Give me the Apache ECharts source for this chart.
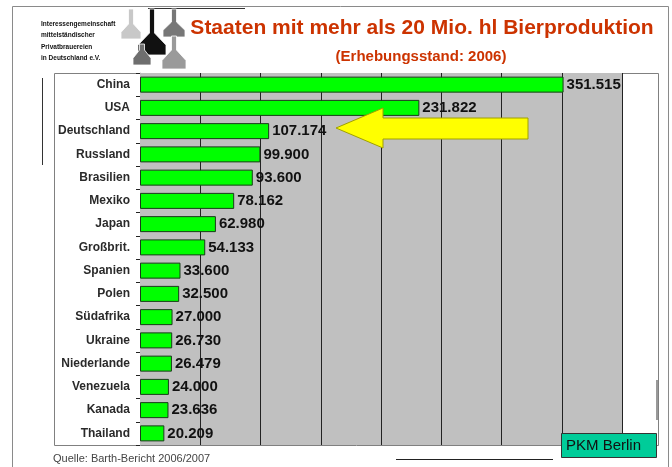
<!DOCTYPE html>
<html>
<head>
<meta charset="utf-8">
<script src="https://cdn.jsdelivr.net/npm/echarts@6/dist/echarts.min.js"></script>
<style>
html,body{margin:0;padding:0;background:#fff;}
#c{width:672px;height:467px;}
</style>
</head>
<body>
<div id="c"></div>
<script>
const categories = ['China','USA','Deutschland','Russland','Brasilien','Mexiko','Japan','Großbrit.','Spanien','Polen','Südafrika','Ukraine','Niederlande','Venezuela','Kanada','Thailand'];
const production = [351.515,231.822,107.174,99.900,93.600,78.162,62.980,54.133,33.600,32.500,27.000,26.730,26.479,24.000,23.636,20.209];
const titleText = 'Staaten mit mehr als 20 Mio. hl Bierproduktion';
const subtitleText = '(Erhebungsstand: 2006)';
const sourceText = 'Quelle: Barth-Bericht 2006/2007';
const badgeText = 'PKM Berlin';
const logoLines = ['Interessengemeinschaft','mittelständischer','Privatbrauereien','in Deutschland e.V.'];

function kettle(cx, top, stemH, bodyW, bodyH, color) {
  const s = 2.5;
  const y1 = top + stemH;
  const y2 = y1 + bodyH * 0.55;
  const y3 = y1 + bodyH;
  return {
    type: 'polygon',
    shape: { points: [
      [cx - s, top], [cx + s, top], [cx + s, y1],
      [cx + bodyW / 2, y2], [cx + bodyW / 2, y3],
      [cx - bodyW / 2, y3], [cx - bodyW / 2, y2], [cx - s, y1]
    ]},
    style: { fill: color, stroke: '#fff', lineWidth: 0.8 },
    z: 5
  };
}

const chart = echarts.init(document.getElementById('c'));
const graphics = [
  { type: 'rect', shape: { x: 12.5, y: 6.5, width: 656, height: 480 }, style: { fill: 'none', stroke: '#8a8a8a', lineWidth: 1 }, z: 0 },
  { type: 'line', shape: { x1: 148, y1: 8.5, x2: 245, y2: 8.5 }, style: { stroke: '#333', lineWidth: 1 } },
  { type: 'line', shape: { x1: 42.5, y1: 78, x2: 42.5, y2: 165 }, style: { stroke: '#333', lineWidth: 1 } },
  { type: 'rect', shape: { x: 54.5, y: 73.5, width: 604, height: 372 }, style: { fill: '#fff', stroke: '#808080', lineWidth: 1 }, z: -10 },
  { type: 'line', shape: { x1: 396, y1: 459.5, x2: 553, y2: 459.5 }, style: { stroke: '#222', lineWidth: 1 } },
  { type: 'line', shape: { x1: 657, y1: 380, x2: 657, y2: 420 }, style: { stroke: '#999', lineWidth: 2 } },
  kettle(131, 9, 15, 20, 15, '#c8c8c8'),
  kettle(152, 9, 24, 28, 22, '#111'),
  kettle(174, 9, 13, 22, 15, '#777'),
  kettle(142, 44, 6, 18, 15, '#6e6e6e'),
  kettle(174, 36, 14, 24, 19, '#9a9a9a'),
  { type: 'polygon', shape: { points: [[336,128],[383,108],[383,118],[528,118],[528,139],[383,139],[383,148]] },
    style: { fill: '#ffff00', stroke: '#a0a000', lineWidth: 1 }, z: 20 },
  { type: 'rect', shape: { x: 561.5, y: 433.5, width: 95, height: 24 }, style: { fill: '#00cc99', stroke: '#333', lineWidth: 1 }, z: 20 },
  { type: 'text', x: 566, y: 446, style: { text: badgeText, fill: '#111', font: '15px "Liberation Sans", Arial, sans-serif', textVerticalAlign: 'middle' }, z: 21 },
  { type: 'text', x: 53, y: 459, style: { text: sourceText, fill: '#444', font: '11px "Liberation Sans", Arial, sans-serif', textVerticalAlign: 'middle' }, z: 21 }
];
logoLines.forEach(function (t, i) {
  graphics.push({ type: 'text', x: 41, y: [24, 35, 47, 58][i],
    style: { text: t, fill: '#111', font: 'bold 6.5px "Liberation Sans", Arial, sans-serif', textVerticalAlign: 'middle' }, z: 5 });
});

chart.setOption({
  animation: false,
  backgroundColor: '#fff',
  title: [
    { text: titleText, left: 417, top: 13, textAlign: 'center',
      textStyle: { color: '#cc3300', fontSize: 21, fontWeight: 'bold', fontFamily: '"Liberation Sans", Arial, sans-serif' } },
    { text: subtitleText, left: 416, top: 44, textAlign: 'center',
      textStyle: { color: '#cc3300', fontSize: 15, fontWeight: 'bold', fontFamily: '"Liberation Sans", Arial, sans-serif' } }
  ],
  grid: { left: 140, right: 50, top: 73, bottom: 22, show: true, backgroundColor: '#c0c0c0', borderWidth: 0 },
  xAxis: {
    type: 'value', min: 0, max: 400, interval: 50,
    axisLabel: { show: false }, axisTick: { show: false }, axisLine: { show: false },
    splitLine: { show: true, lineStyle: { color: '#222', width: 1 } }
  },
  yAxis: {
    type: 'category', data: categories, inverse: true,
    axisLine: { show: true, lineStyle: { color: '#c0c0c0' } },
    axisTick: { show: true, length: 4, lineStyle: { color: '#222' } },
    axisLabel: { color: '#2a2a2a', fontSize: 12, fontWeight: 'bold', margin: 10, fontFamily: '"Liberation Sans", Arial, sans-serif' }
  },
  series: [{
    type: 'bar', data: production, barWidth: 16,
    itemStyle: { color: '#00ff00', borderColor: '#1a3a1a', borderWidth: 1 },
    label: { show: true, position: 'right', distance: 3, color: '#111', fontSize: 15, fontWeight: 'bold',
      fontFamily: '"Liberation Sans", Arial, sans-serif',
      formatter: function (p) { return p.value.toFixed(3); } },
    z: 3
  }],
  graphic: graphics
});
</script>
</body>
</html>
